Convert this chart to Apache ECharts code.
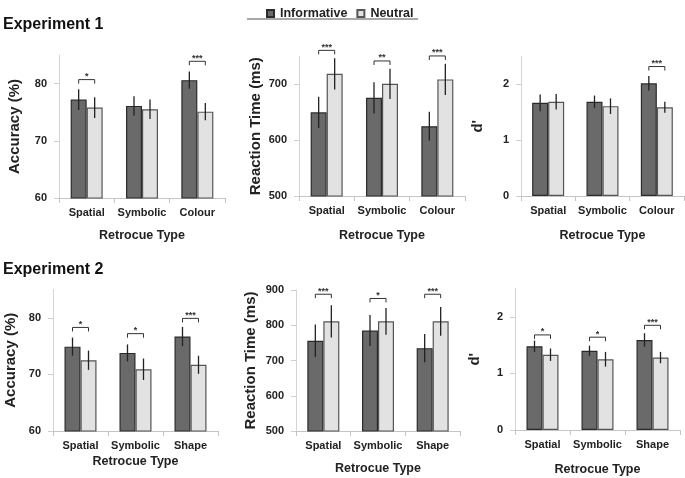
<!DOCTYPE html>
<html>
<head>
<meta charset="utf-8">
<script src="https://cdn.jsdelivr.net/npm/echarts@6/dist/echarts.min.js"></script>
<style>html,body{margin:0;padding:0;background:#fff}#c{width:685px;height:478px}</style>
</head>
<body>
<div id="c"></div>
<script>
// ---------- data ----------
const exp1Categories = ['Spatial', 'Symbolic', 'Colour'];
const exp2Categories = ['Spatial', 'Symbolic', 'Shape'];
const seriesNames = ['Informative', 'Neutral'];

// Experiment 1
const e1AccInf = [77.2, 76.1, 80.6];
const e1AccInfErr = [1.8, 1.7, 1.5];
const e1AccNeu = [75.8, 75.5, 75.1];
const e1AccNeuErr = [1.8, 1.7, 1.5];
const e1AccSig = [1, 0, 3];
const e1AccSigY = [80.7, 0, 83.9];

const e1RtInf = [650, 676, 625];
const e1RtInfErr = [28, 28, 26];
const e1RtNeu = [719, 701, 709];
const e1RtNeuErr = [28, 27, 28];
const e1RtSig = [3, 2, 3];
const e1RtSigY = [761, 742, 751];

const e1DInf = [1.67, 1.69, 2.02];
const e1DInfErr = [0.15, 0.11, 0.13];
const e1DNeu = [1.69, 1.61, 1.59];
const e1DNeuErr = [0.14, 0.14, 0.10];
const e1DSig = [0, 0, 3];
const e1DSigY = [0, 0, 2.32];

// Experiment 2
const e2AccInf = [74.9, 73.8, 76.7];
const e2AccInfErr = [1.6, 1.5, 1.7];
const e2AccNeu = [72.5, 70.9, 71.7];
const e2AccNeuErr = [1.7, 1.9, 1.6];
const e2AccSig = [1, 1, 3];
const e2AccSigY = [78.3, 77.2, 79.9];

const e2RtInf = [756, 785, 735];
const e2RtInfErr = [46, 44, 40];
const e2RtNeu = [811, 811, 811];
const e2RtNeuErr = [46, 38, 41];
const e2RtSig = [3, 1, 3];
const e2RtSigY = [888, 876, 888];

const e2DInf = [1.48, 1.40, 1.59];
const e2DInfErr = [0.10, 0.09, 0.12];
const e2DNeu = [1.33, 1.25, 1.28];
const e2DNeuErr = [0.11, 0.13, 0.10];
const e2DSig = [1, 1, 3];
const e2DSigY = [1.68, 1.64, 1.85];

// axis settings
const accTicks = [60, 70, 80];
const rt1Ticks = [500, 600, 700];
const rt2Ticks = [500, 600, 700, 800, 900];
const dTicks = [0, 1, 2];

// ---------- layout ----------
const FONT = '"Liberation Sans", Arial, sans-serif';
const BAR_W = 16;
const panels = [
  {grid:{left:59, top:55, width:166, height:143}, cats:exp1Categories, min:60, max:85, ticks:accTicks, yName:'Accuracy (%)', yGap:37, xGap:31,
   inf:e1AccInf, infErr:e1AccInfErr, neu:e1AccNeu, neuErr:e1AccNeuErr, sig:e1AccSig, sigY:e1AccSigY},
  {grid:{left:299, top:56.5, width:166, height:139.5}, cats:exp1Categories, min:500, max:750, ticks:rt1Ticks, yName:'Reaction Time (ms)', yGap:36, xGap:33,
   inf:e1RtInf, infErr:e1RtInfErr, neu:e1RtNeu, neuErr:e1RtNeuErr, sig:e1RtSig, sigY:e1RtSigY},
  {grid:{left:521, top:56.5, width:163, height:139.5}, cats:exp1Categories, min:0, max:2.5, ticks:dTicks, yName:"d'", yGap:36, xGap:33,
   inf:e1DInf, infErr:e1DInfErr, neu:e1DNeu, neuErr:e1DNeuErr, sig:e1DSig, sigY:e1DSigY},
  {grid:{left:53, top:289.5, width:165, height:141.5}, cats:exp2Categories, min:60, max:85, ticks:accTicks, yName:'Accuracy (%)', yGap:35, xGap:24,
   inf:e2AccInf, infErr:e2AccInfErr, neu:e2AccNeu, neuErr:e2AccNeuErr, sig:e2AccSig, sigY:e2AccSigY},
  {grid:{left:296, top:290, width:164, height:141}, cats:exp2Categories, min:500, max:900, ticks:rt2Ticks, yName:'Reaction Time (ms)', yGap:38, xGap:31,
   inf:e2RtInf, infErr:e2RtInfErr, neu:e2RtNeu, neuErr:e2RtNeuErr, sig:e2RtSig, sigY:e2RtSigY},
  {grid:{left:515, top:288.5, width:165, height:141.5}, cats:exp2Categories, min:0, max:2.5, ticks:dTicks, yName:"d'", yGap:33, xGap:33,
   inf:e2DInf, infErr:e2DInfErr, neu:e2DNeu, neuErr:e2DNeuErr, sig:e2DSig, sigY:e2DSigY}
];

const grids = [], xAxes = [], yAxes = [], series = [];
panels.forEach((p, gi) => {
  grids.push(Object.assign({containLabel:false}, p.grid));
  xAxes.push({
    type:'category', gridIndex:gi, data:p.cats,
    name:'Retrocue Type', nameLocation:'middle', nameGap:p.xGap,
    nameTextStyle:{fontFamily:FONT, fontWeight:'bold', fontSize:12.5, color:'#222', verticalAlign:'top'},
    axisLine:{lineStyle:{color:'#c4c4c4', width:1}},
    axisTick:{show:true, length:5, interval:0, lineStyle:{color:'#c4c4c4'}},
    axisLabel:{interval:0, hideOverlap:false, fontFamily:FONT, fontWeight:'bold', fontSize:11, color:'#222', margin:9}
  });
  yAxes.push({
    type:'value', gridIndex:gi, min:p.min, max:p.max,
    name:p.yName, nameLocation:'middle', nameRotate:90, nameGap:p.yGap,
    nameTextStyle:{fontFamily:FONT, fontWeight:'bold', fontSize:15, color:'#222'},
    axisLine:{show:true, lineStyle:{color:'#d4d4d4', width:1}},
    axisTick:{show:true, length:5, customValues:p.ticks, lineStyle:{color:'#d0d0d0'}},
    axisLabel:{customValues:p.ticks, fontFamily:FONT, fontWeight:'bold', fontSize:11, color:'#222', margin:12},
    splitLine:{show:false}
  });
  series.push({
    type:'bar', name:seriesNames[0], xAxisIndex:gi, yAxisIndex:gi, data:p.inf,
    barWidth:BAR_W, barGap:'0%',
    itemStyle:{color:'#6a6a6a', borderColor:'#2b2b2b', borderWidth:1.2}
  });
  series.push({
    type:'bar', name:seriesNames[1], xAxisIndex:gi, yAxisIndex:gi, data:p.neu,
    barWidth:BAR_W, barGap:'0%',
    itemStyle:{color:'#e2e2e2', borderColor:'#555555', borderWidth:1.2}
  });
  const errData = [];
  p.cats.forEach((c, i) => {
    errData.push([i, p.inf[i] - p.infErr[i], p.inf[i] + p.infErr[i], -1]);
    errData.push([i, p.neu[i] - p.neuErr[i], p.neu[i] + p.neuErr[i], 1]);
  });
  series.push({
    type:'custom', xAxisIndex:gi, yAxisIndex:gi, data:errData, clip:false, silent:true, z:5,
    encode:{x:0, y:[1, 2]},
    renderItem:(params, api) => {
      const c = api.value(0);
      const lo = api.coord([c, api.value(1)]);
      const hi = api.coord([c, api.value(2)]);
      const x = lo[0] + api.value(3) * BAR_W / 2;
      return {type:'line', shape:{x1:x, y1:lo[1], x2:x, y2:hi[1]}, style:{stroke:'#222', lineWidth:1.3}};
    }
  });
  const sigData = [];
  p.sig.forEach((n, i) => { if (n > 0) sigData.push([i, p.sigY[i], n]); });
  series.push({
    type:'custom', xAxisIndex:gi, yAxisIndex:gi, data:sigData, clip:false, silent:true, z:5,
    encode:{x:0, y:1},
    renderItem:(params, api) => {
      const pt = api.coord([api.value(0), api.value(1)]);
      const x0 = pt[0] - BAR_W / 2, x1 = pt[0] + BAR_W / 2, y = pt[1];
      return {type:'group', children:[
        {type:'polyline', shape:{points:[[x0, y + 4], [x0, y], [x1, y], [x1, y + 4]]}, style:{stroke:'#333', lineWidth:1, fill:null}},
        {type:'text', x:pt[0], y:y - 3, style:{text:'*'.repeat(api.value(2)), align:'center', verticalAlign:'middle', font:'bold 9px ' + FONT, fill:'#333'}}
      ]};
    }
  });
});

const chart = echarts.init(document.getElementById('c'), null, {renderer:'canvas'});
chart.setOption({
  animation:false,
  backgroundColor:'#fff',
  legend:{
    data:seriesNames, left:261, top:2, itemWidth:7, itemHeight:7, itemGap:9,
    icon:'rect',
    textStyle:{fontFamily:FONT, fontWeight:'bold', fontSize:12.5, color:'#222', padding:[0,0,0,1]}
  },
  graphic:[
    {type:'text', left:3, top:17, style:{text:'Experiment 1', font:'bold 16px ' + FONT, fill:'#111'}},
    {type:'text', left:3, top:262, style:{text:'Experiment 2', font:'bold 16px ' + FONT, fill:'#111'}},
    {type:'line', shape:{x1:247, y1:19, x2:418, y2:19}, style:{stroke:'#a8a8a8', lineWidth:2}}
  ],
  grid:grids, xAxis:xAxes, yAxis:yAxes, series:series
});
</script>
</body>
</html>
